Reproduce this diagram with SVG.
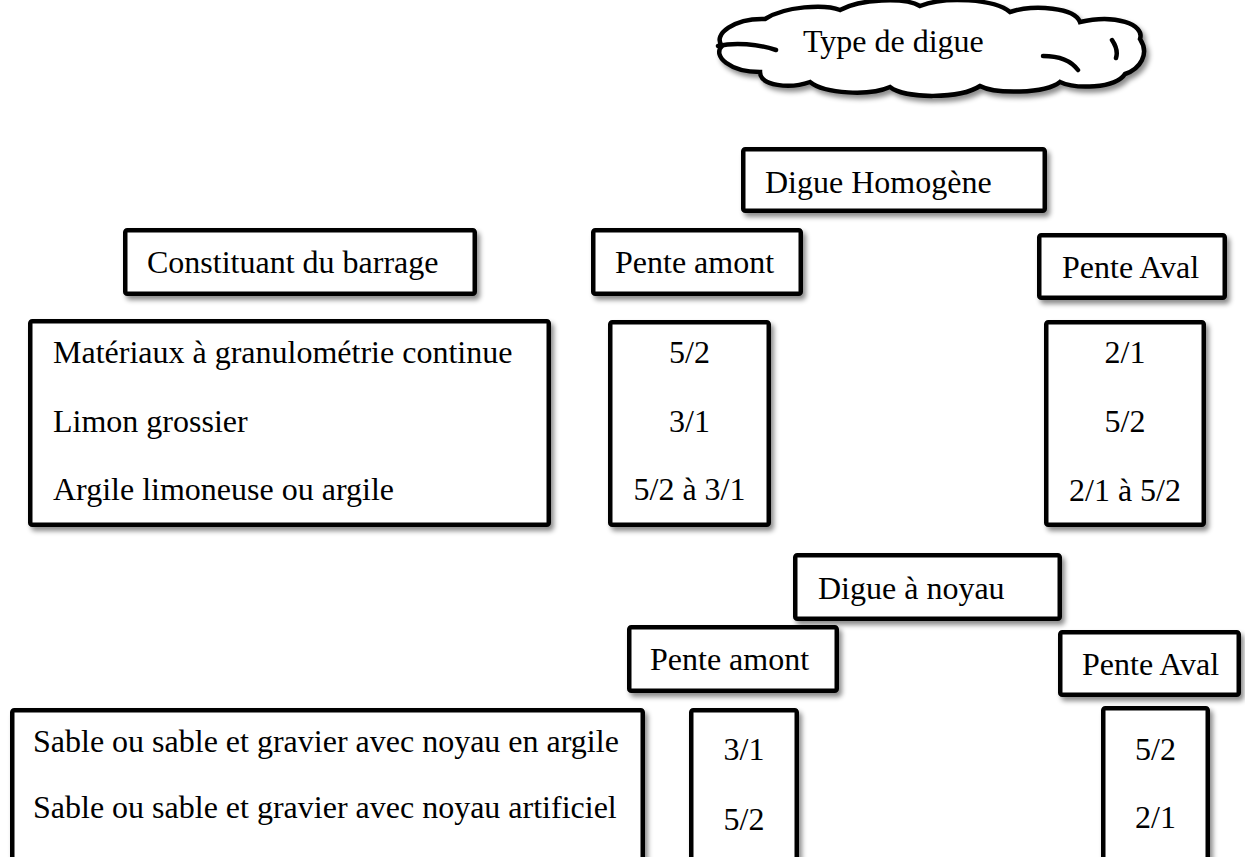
<svg xmlns="http://www.w3.org/2000/svg" width="1245" height="857" viewBox="0 0 1245 857">
<style>
.box{fill:#fff;stroke:#000;stroke-width:4.5;filter:url(#sh)}
.t{font-family:"Liberation Serif","Times New Roman",serif;font-size:32px;fill:#000}
.c{text-anchor:middle}
</style>
<defs>
<filter id="sh" x="-10%" y="-10%" width="130%" height="140%">
<feDropShadow dx="3" dy="4" stdDeviation="2.5" flood-color="#000" flood-opacity="0.45"/>
</filter>
</defs>
<rect width="1245" height="857" fill="#fff"/>
<g id="cloud">
<path class="box" d="M722,46 C712,34 735,18 765,19 C785,6 825,4 840,10 C860,-1 905,-3 920,6 C945,-4 995,-1 1010,12 C1035,4 1075,8 1080,22 C1115,14 1145,24 1140,39 C1150,54 1140,69 1125,74 C1115,89 1075,89 1060,82 C1045,94 995,94 980,86 C960,99 905,99 890,87 C870,96 825,94 810,82 C790,89 760,86 760,72 C730,72 712,56 722,46 Z"/>
<path d="M718,46 C735,42 758,44 776,50 M1043,56 C1060,56 1072,62 1078,70 M1112,40 C1116,46 1118,52 1116,58" fill="none" stroke="#000" stroke-width="4.5" stroke-linecap="round"/>
<text class="t" x="803" y="52">Type de digue</text>
</g>
<g id="digue-homogene">
<rect class="box" x="743.25" y="149.25" width="301.5" height="61.5" rx="2"/>
<text class="t" x="765" y="193">Digue Homogène</text>
</g>
<g id="constituant">
<rect class="box" x="125.25" y="230.25" width="349.5" height="63.5" rx="2"/>
<text class="t" x="147" y="273">Constituant du barrage</text>
</g>
<g id="pente-amont-1">
<rect class="box" x="593.25" y="230.25" width="207.5" height="63.5" rx="2"/>
<text class="t" x="615" y="273">Pente amont</text>
</g>
<g id="pente-aval-1">
<rect class="box" x="1039.25" y="235.25" width="185.5" height="62.5" rx="2"/>
<text class="t" x="1062" y="278">Pente Aval</text>
</g>
<g id="materiaux-1">
<rect class="box" x="30.25" y="321.25" width="518.5" height="203.5" rx="2"/>
<text class="t" x="53" y="363">Matériaux à granulométrie continue</text>
<text class="t" x="53" y="432">Limon grossier</text>
<text class="t" x="53" y="500">Argile limoneuse ou argile</text>
</g>
<g id="amont-values-1">
<rect class="box" x="610.25" y="322.25" width="158.5" height="202.5" rx="2"/>
<text class="t c" x="689.5" y="363">5/2</text>
<text class="t c" x="689.5" y="432">3/1</text>
<text class="t c" x="689.5" y="500">5/2 à 3/1</text>
</g>
<g id="aval-values-1">
<rect class="box" x="1046.25" y="322.25" width="157.5" height="202.5" rx="2"/>
<text class="t c" x="1125" y="363">2/1</text>
<text class="t c" x="1125" y="432">5/2</text>
<text class="t c" x="1125" y="501">2/1 à 5/2</text>
</g>
<g id="digue-noyau">
<rect class="box" x="795.25" y="555.25" width="264.5" height="63.5" rx="2"/>
<text class="t" x="818" y="599">Digue à noyau</text>
</g>
<g id="pente-amont-2">
<rect class="box" x="629.25" y="627.25" width="207.5" height="63.5" rx="2"/>
<text class="t" x="650" y="670">Pente amont</text>
</g>
<g id="pente-aval-2">
<rect class="box" x="1060.25" y="632.25" width="178.5" height="62.5" rx="2"/>
<text class="t" x="1082" y="675">Pente Aval</text>
</g>
<g id="materiaux-2">
<rect class="box" x="12.25" y="710.25" width="630.5" height="160" rx="2"/>
<text class="t" x="33" y="752">Sable ou sable et gravier avec noyau en argile</text>
<text class="t" x="33" y="818">Sable ou sable et gravier avec noyau artificiel</text>
</g>
<g id="amont-values-2">
<rect class="box" x="691.25" y="710.25" width="105.5" height="160" rx="2"/>
<text class="t c" x="744" y="760">3/1</text>
<text class="t c" x="744" y="830">5/2</text>
</g>
<g id="aval-values-2">
<rect class="box" x="1103.25" y="708.25" width="104.5" height="160" rx="2"/>
<text class="t c" x="1155.5" y="760">5/2</text>
<text class="t c" x="1155.5" y="828">2/1</text>
</g>
<g id="connectors"/>
</svg>
